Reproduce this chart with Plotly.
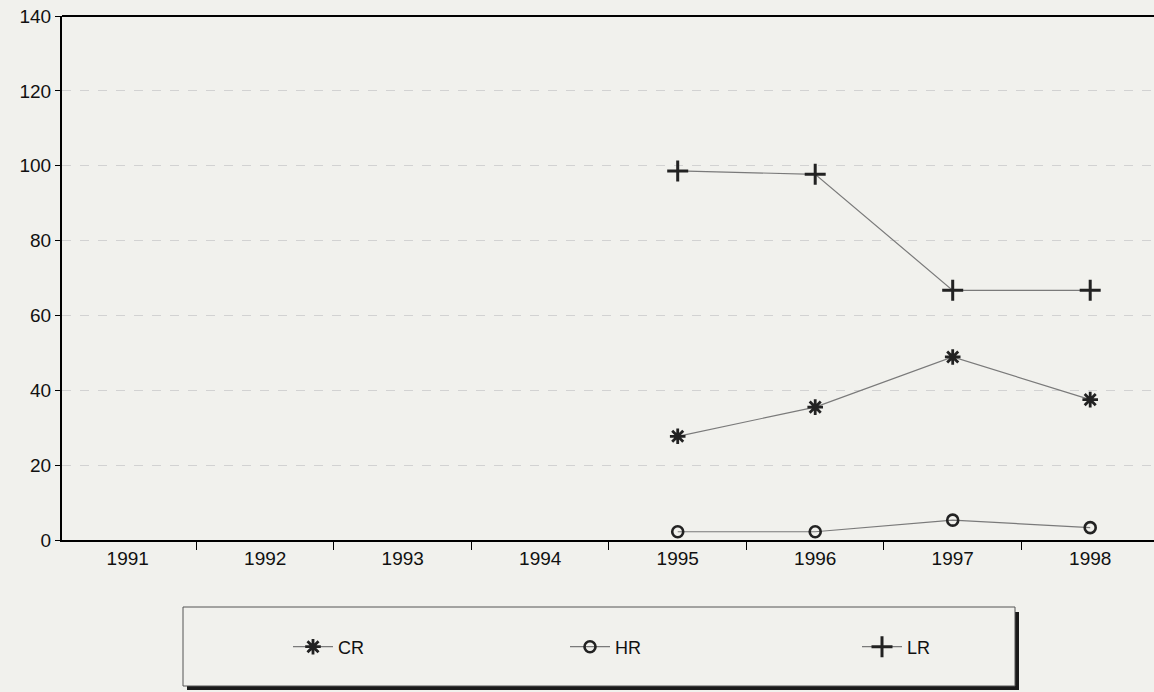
import plotly.graph_objects as go

years = ["1991", "1992", "1993", "1994", "1995", "1996", "1997", "1998"]
cr = [None, None, None, None, 27.7, 35.5, 48.9, 37.5]
hr = [None, None, None, None, 2.2, 2.2, 5.3, 3.3]
lr = [None, None, None, None, 98.6, 97.7, 66.7, 66.7]

bg = "#f1f1ed"
line_col = "#7a7a7a"
mark_col = "#222222"

W, H = 1154, 692
ml, mr, mt, mb = 62, 0, 16, 152
pw, ph = W - ml - mr, H - mt - mb


def px_x(p):
    return (p - ml) / pw


def px_y(p):
    return (H - mb - p) / ph


fig = go.Figure()
fig.add_trace(go.Scatter(x=years, y=cr, name="CR", mode="lines+markers", legend="legend",
                         line=dict(color=line_col, width=1.2),
                         marker=dict(symbol="asterisk-open", size=13, color=mark_col,
                                     line=dict(color=mark_col, width=2.8))))
fig.add_trace(go.Scatter(x=years, y=hr, name="HR", mode="lines+markers", legend="legend2",
                         line=dict(color=line_col, width=1.2),
                         marker=dict(symbol="circle-open", size=11, color=mark_col,
                                     line=dict(color=mark_col, width=2.6))))
fig.add_trace(go.Scatter(x=years, y=lr, name="LR", mode="lines+markers", legend="legend3",
                         line=dict(color=line_col, width=1.2),
                         marker=dict(symbol="cross-thin-open", size=15, color=mark_col,
                                     line=dict(color=mark_col, width=3))))

# legend box shadow and box
fig.add_shape(type="rect", xref="paper", yref="paper",
              x0=px_x(187), x1=px_x(1019), y0=px_y(612), y1=px_y(690),
              fillcolor="#1a1a1a", line=dict(width=0))
fig.add_shape(type="rect", xref="paper", yref="paper",
              x0=px_x(183), x1=px_x(1015), y0=px_y(607), y1=px_y(686),
              fillcolor=bg, line=dict(color="#555555", width=1))
# top border
fig.add_shape(type="line", xref="paper", yref="paper", x0=0, x1=1, y0=1, y1=1,
              line=dict(color="black", width=2))

leg_common = dict(orientation="h", xanchor="left", yanchor="middle", y=px_y(647),
                  bgcolor="rgba(0,0,0,0)", borderwidth=0, font=dict(size=18),
                  itemwidth=40)

fig.update_layout(
    width=W, height=H,
    margin=dict(l=ml, r=mr, t=mt, b=mb),
    paper_bgcolor=bg, plot_bgcolor=bg,
    font=dict(family="Liberation Sans, Arial, sans-serif", size=19, color="#111111"),
    showlegend=True,
    legend=dict(x=px_x(288), **leg_common),
    legend2=dict(x=px_x(565), **leg_common),
    legend3=dict(x=px_x(857), **leg_common),
    xaxis=dict(type="category", range=[-0.478, 7.464],
               showline=True, linecolor="black", linewidth=2,
               ticks="outside", tickson="boundaries", ticklen=8, tickcolor="black",
               showgrid=False, zeroline=False, tickfont=dict(size=19)),
    yaxis=dict(range=[0, 140], dtick=20, showline=True, linecolor="black", linewidth=2,
               ticks="outside", ticklen=5, tickcolor="black", ticklabeloverflow="allow",
               showgrid=True, gridcolor="#d2d2d2", griddash="dash", gridwidth=1,
               zeroline=False, tickfont=dict(size=19)),
)

fig.write_html("out.html", config={"displayModeBar": False},
               post_script="document.body.style.margin='0px';document.body.style.overflow='hidden';")
